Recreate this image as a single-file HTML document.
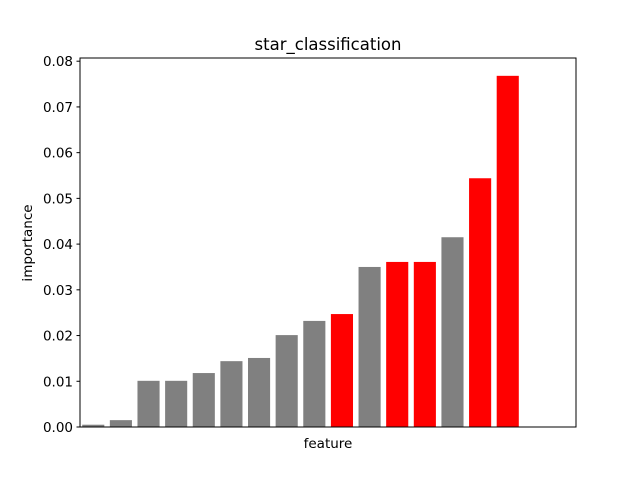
<!DOCTYPE html>
<html><head><meta charset="utf-8"><style>
body{margin:0;background:#fff;}
svg text{font-family:"DejaVu Sans","Liberation Sans",sans-serif;fill:#000;}
</style></head><body>
<svg id="chart" width="640" height="480">
<rect width="640" height="480" fill="#fff"/>
<g id="bars"></g>
<g id="yticks"></g>
<rect x="80" y="58" width="496" height="369" fill="none" stroke="#000" stroke-width="1"/>
<text x="328" y="50" font-size="16.5" text-anchor="middle">star_classification</text>
<text x="328" y="448" font-size="13.5" text-anchor="middle">feature</text>
<text transform="translate(32,243) rotate(-90)" font-size="13.5" text-anchor="middle">importance</text>
</svg>
<script>
const values=[0.0005,0.0015,0.0101,0.0101,0.0118,0.0144,0.0151,0.0201,0.0232,0.0247,0.0350,0.0361,0.0361,0.0415,0.0544,0.0768];
const highlighted=[0,0,0,0,0,0,0,0,0,1,0,1,1,0,1,1];
const yTickLabels=["0.00","0.01","0.02","0.03","0.04","0.05","0.06","0.07","0.08"];
const yTickValues=[0,0.01,0.02,0.03,0.04,0.05,0.06,0.07,0.08];
const NS="http://www.w3.org/2000/svg";
const L=80,R=576,T=58,B=427,xmin=-0.48,xmax=17.47,ymax=0.0807;
const xs=v=>L+(v-xmin)/(xmax-xmin)*(R-L);
const ys=v=>B-v/ymax*(B-T);
const bw=0.8*(R-L)/(xmax-xmin);
const gb=document.getElementById('bars');
values.forEach((v,i)=>{
 const r=document.createElementNS(NS,'rect');
 r.setAttribute('x',xs(i)-bw/2);r.setAttribute('y',ys(v));
 r.setAttribute('width',bw);r.setAttribute('height',B-ys(v));
 r.setAttribute('fill',highlighted[i]?'#ff0000':'#808080');
 
 
 gb.appendChild(r);
});
const gt=document.getElementById('yticks');
yTickValues.forEach((v,i)=>{
 const y=ys(v);
 const l=document.createElementNS(NS,'line');
 l.setAttribute('x1',L-3.5);l.setAttribute('x2',L);l.setAttribute('y1',y);l.setAttribute('y2',y);
 l.setAttribute('stroke','#000');
 
 
 gt.appendChild(l);
 const t=document.createElementNS(NS,'text');
 t.setAttribute('x',L-7);t.setAttribute('y',y+5);t.setAttribute('font-size','13.5');t.setAttribute('text-anchor','end');
 t.textContent=yTickLabels[i];
 
 
 gt.appendChild(t);
});
</script>
</body></html>
